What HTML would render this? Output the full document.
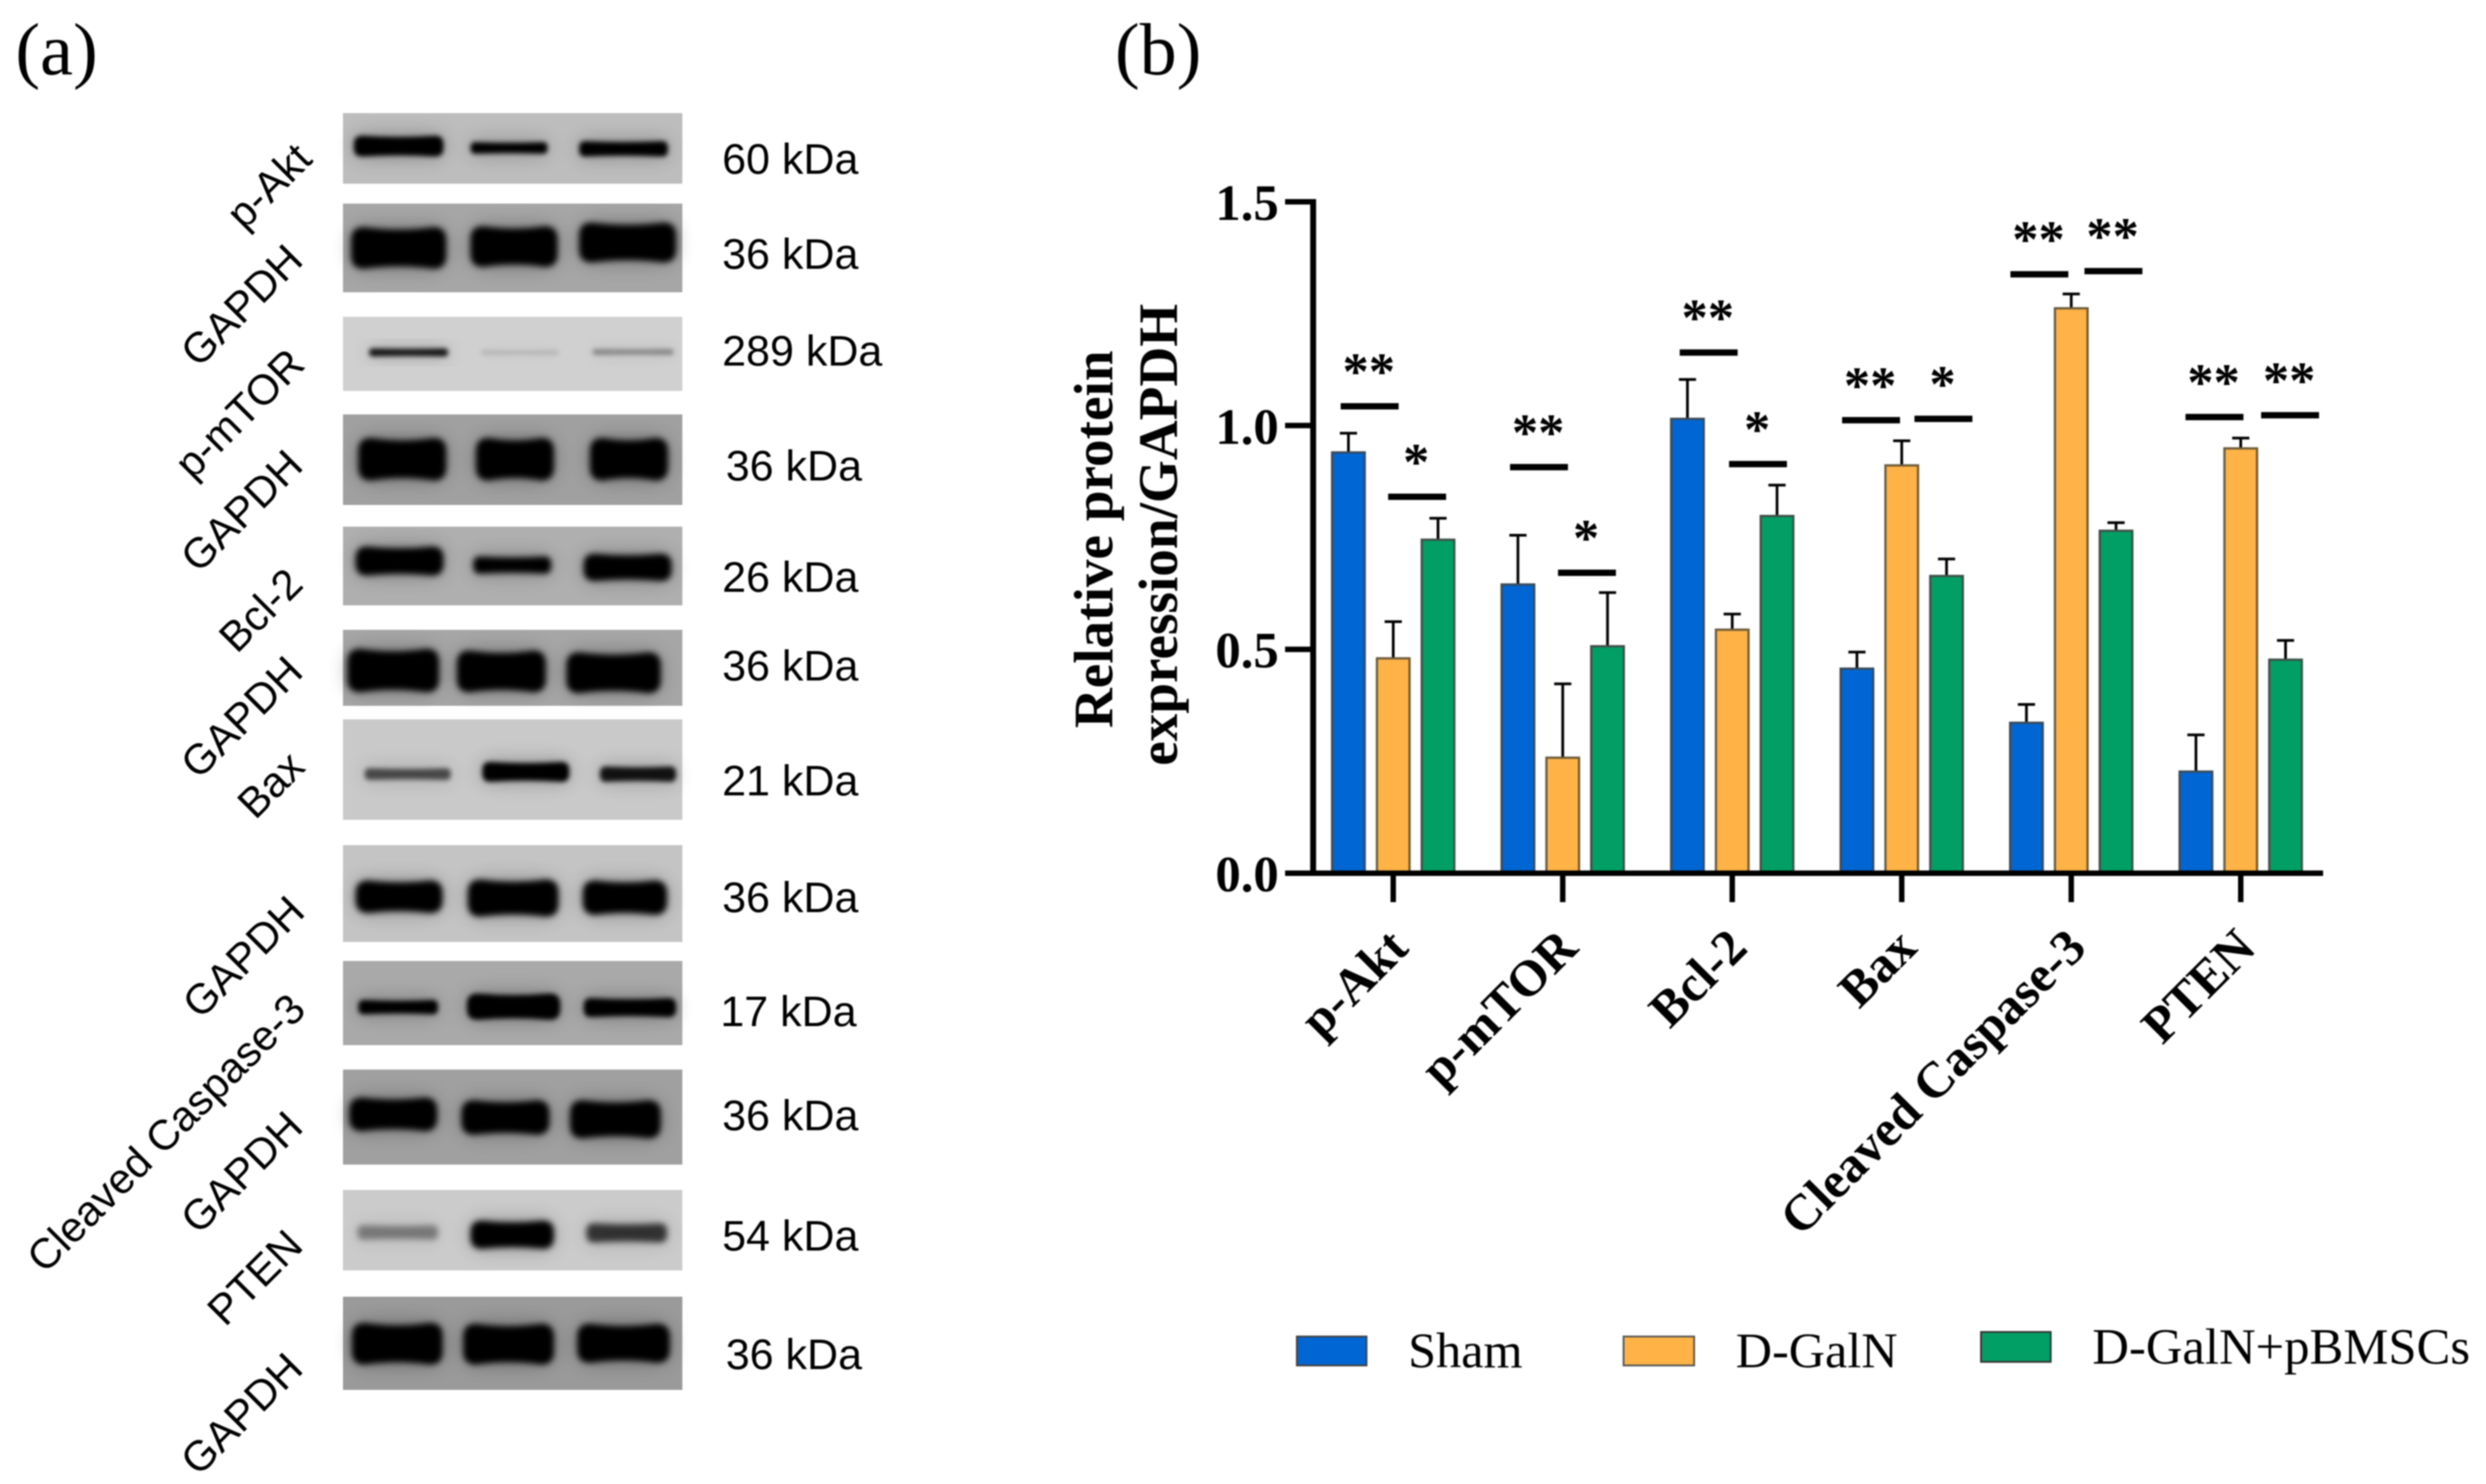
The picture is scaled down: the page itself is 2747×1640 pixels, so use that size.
<!DOCTYPE html>
<html lang="en">
<head>
<meta charset="utf-8">
<title>Western blots and relative protein expression</title>
<style>
html,body{margin:0;padding:0;background:#fff;width:2747px;height:1640px;overflow:hidden}
svg{display:block;filter:blur(.8px)}
.pl{font-family:"Liberation Serif",serif;font-size:82px;fill:#000}
.kda{font-family:"Liberation Sans",sans-serif;font-size:47.5px;fill:#000}
.prot{font-family:"Liberation Sans",sans-serif;font-size:46.8px;fill:#000}
.b{font-family:"Liberation Serif",serif;font-weight:bold;fill:#000}
.leg{font-family:"Liberation Serif",serif;font-size:55.5px;fill:#000}
</style>
</head>
<body>
<svg id="fig" xmlns="http://www.w3.org/2000/svg" width="2747" height="1640" viewBox="0 0 2747 1640">
<defs>
<filter id="bb" x="-20%" y="-60%" width="140%" height="220%"><feGaussianBlur stdDeviation="3.5"/></filter>
<filter id="bs" x="-20%" y="-100%" width="140%" height="300%"><feGaussianBlur stdDeviation="2.6"/></filter>
<filter id="halo" x="-30%" y="-120%" width="160%" height="340%"><feGaussianBlur stdDeviation="11"/></filter>
</defs>
<rect width="2747" height="1640" fill="#fff"/>
<text class="pl" x="17" y="82">(a)</text>
<text class="pl" x="1232" y="82">(b)</text>

<g fill="#060606">
<g><rect x="379" y="125" width="375" height="78" fill="#bdbdbd"/><g filter="url(#bs)"><rect x="391" y="150" width="99" height="23" rx="10"/><rect x="520" y="157" width="85" height="13" rx="6"/><rect x="640" y="156" width="98" height="17" rx="7"/></g></g>
<g><rect x="379" y="225" width="375" height="98" fill="#a6a6a6"/><g filter="url(#bb)"><rect x="388" y="251" width="105" height="46" rx="16"/><rect x="520" y="250" width="96" height="45" rx="16"/><rect x="640" y="246" width="107" height="44" rx="16"/></g></g>
<g><rect x="379" y="350" width="375" height="82" fill="#d0d0d0"/><g filter="url(#bs)"><rect x="408" y="385" width="87" height="9" rx="4" fill-opacity=".9"/><rect x="532" y="387" width="85" height="5" rx="2" fill-opacity=".14"/><rect x="655" y="386" width="89" height="6" rx="3" fill-opacity=".38"/></g></g>
<g><rect x="379" y="458" width="375" height="100" fill="#a0a0a0"/><g filter="url(#bb)"><rect x="396" y="484" width="97" height="47" rx="16"/><rect x="526" y="484" width="86" height="47" rx="16"/><rect x="652" y="484" width="86" height="47" rx="16"/></g></g>
<g><rect x="379" y="582" width="375" height="87" fill="#afafaf"/><g filter="url(#bb)"><rect x="393" y="604" width="97" height="32" rx="13"/><rect x="523" y="615" width="86" height="19" rx="8"/><rect x="645" y="612" width="97" height="30" rx="12"/></g></g>
<g><rect x="379" y="696" width="375" height="84" fill="#a6a6a6"/><g filter="url(#bb)"><rect x="384" y="717" width="101" height="48" rx="16"/><rect x="505" y="719" width="98" height="46" rx="16"/><rect x="626" y="721" width="104" height="45" rx="16"/></g></g>
<g><rect x="379" y="795" width="375" height="111" fill="#c9c9c9"/><g filter="url(#bs)"><rect x="403" y="849" width="95" height="13" rx="5" fill-opacity=".62"/><rect x="533" y="842" width="96" height="22" rx="9"/><rect x="663" y="847" width="84" height="17" rx="7" fill-opacity=".9"/></g></g>
<g><rect x="379" y="934" width="375" height="107" fill="#c4c4c4"/><g filter="url(#bb)"><rect x="393" y="973" width="96" height="36" rx="14"/><rect x="517" y="972" width="100" height="41" rx="15"/><rect x="644" y="973" width="93" height="38" rx="14"/></g></g>
<g><rect x="379" y="1062" width="375" height="93" fill="#a9a9a9"/><g filter="url(#bs)"><rect x="396" y="1105" width="88" height="16" rx="7"/><rect x="516" y="1098" width="103" height="29" rx="13"/><rect x="645" y="1103" width="102" height="21" rx="9"/></g></g>
<g><rect x="379" y="1182" width="375" height="105" fill="#a0a0a0"/><g filter="url(#bb)"><rect x="386" y="1213" width="97" height="37" rx="14"/><rect x="510" y="1216" width="97" height="38" rx="14"/><rect x="630" y="1216" width="100" height="42" rx="16"/></g></g>
<g><rect x="379" y="1315" width="375" height="89" fill="#cbcbcb"/><g filter="url(#bb)"><rect x="395" y="1354" width="89" height="16" rx="8" fill-opacity=".38"/><rect x="520" y="1349" width="92" height="31" rx="13"/><rect x="648" y="1352" width="89" height="21" rx="10" fill-opacity=".72"/></g></g>
<g><rect x="379" y="1433" width="375" height="103" fill="#9a9a9a"/><g filter="url(#bb)"><rect x="389" y="1462" width="100" height="46" rx="16"/><rect x="512" y="1463" width="100" height="45" rx="16"/><rect x="638" y="1463" width="102" height="43" rx="16"/></g></g>
</g>

<g>
<text class="prot" text-anchor="end" transform="translate(347 178) rotate(-45)">p-Akt</text>
<text class="prot" text-anchor="end" transform="translate(337 290) rotate(-45)">GAPDH</text>
<text class="prot" text-anchor="end" transform="translate(339 405) rotate(-45)">p-mTOR</text>
<text class="prot" text-anchor="end" transform="translate(337 517) rotate(-45)">GAPDH</text>
<text class="prot" text-anchor="end" transform="translate(337 648) rotate(-45)">Bcl-2</text>
<text class="prot" text-anchor="end" transform="translate(337 745) rotate(-45)">GAPDH</text>
<text class="prot" text-anchor="end" transform="translate(339 850) rotate(-45)">Bax</text>
<text class="prot" text-anchor="end" transform="translate(339 1010) rotate(-45)">GAPDH</text>
<text class="prot" text-anchor="end" transform="translate(340 1118) rotate(-45)">Cleaved Caspase-3</text>
<text class="prot" text-anchor="end" transform="translate(337 1248) rotate(-45)">GAPDH</text>
<text class="prot" text-anchor="end" transform="translate(337 1379) rotate(-45)">PTEN</text>
<text class="prot" text-anchor="end" transform="translate(337 1515) rotate(-45)">GAPDH</text>
</g>

<g>
<text class="kda" x="798" y="192">60 kDa</text>
<text class="kda" x="798" y="297">36 kDa</text>
<text class="kda" x="798" y="404">289 kDa</text>
<text class="kda" x="802" y="531">36 kDa</text>
<text class="kda" x="798" y="654">26 kDa</text>
<text class="kda" x="798" y="752">36 kDa</text>
<text class="kda" x="798" y="879">21 kDa</text>
<text class="kda" x="798" y="1008">36 kDa</text>
<text class="kda" x="796" y="1134">17 kDa</text>
<text class="kda" x="798" y="1249">36 kDa</text>
<text class="kda" x="798" y="1382">54 kDa</text>
<text class="kda" x="802" y="1513">36 kDa</text>
</g>

<g id="chart"></g>

<g transform="translate(1229 596) rotate(-90)">
<text class="b" font-size="61" text-anchor="middle" x="0" y="0">Relative protein</text>
<text class="b" font-size="61" text-anchor="middle" x="5" y="71.5">expression/GAPDH</text>
</g>

<g>
<g><rect x="1433" y="1477" width="77" height="32" fill="#0066d3" stroke="#444" stroke-width="2"/><text class="leg" x="1556" y="1511">Sham</text></g>
<g><rect x="1794" y="1477" width="78" height="32" fill="#ffb347" stroke="#555" stroke-width="2"/><text class="leg" x="1918" y="1511">D-GalN</text></g>
<g><rect x="2189" y="1472" width="77" height="33" fill="#019f65" stroke="#333" stroke-width="2"/><text class="leg" x="2312" y="1507" style="font-size:56px">D-GalN+pBMSCs</text></g>
</g>
</svg>

<script>
const categories = ['p-Akt', 'p-mTOR', 'Bcl-2', 'Bax', 'Cleaved Caspase-3', 'PTEN'];
const yTicks = [0, 0.5, 1.0, 1.5];
const yTickLabels = ['0.0', '0.5', '1.0', '1.5'];
const shamValues = [0.94, 0.645, 1.015, 0.457, 0.336, 0.227];
const dgalnValues = [0.48, 0.258, 0.544, 0.911, 1.262, 0.949];
const pbmscValues = [0.745, 0.507, 0.798, 0.664, 0.765, 0.477];
const shamErrors = [0.043, 0.11, 0.088, 0.037, 0.041, 0.082];
const dgalnErrors = [0.082, 0.165, 0.035, 0.055, 0.032, 0.023];
const pbmscErrors = [0.048, 0.12, 0.069, 0.038, 0.018, 0.043];
const sigLeftLabels = ['**', '**', '**', '**', '**', '**'];
const sigRightLabels = ['*', '*', '*', '*', '**', '**'];
const sigLeftLevels = [1.043, 0.907, 1.163, 1.012, 1.338, 1.019];
const sigRightLevels = [0.841, 0.671, 0.914, 1.015, 1.345, 1.023];
const sigLeftCategoryPos = [-0.139, 0.86, 1.861, 2.819, 3.812, 4.845];
const sigRightCategoryPos = [0.141, 1.143, 2.152, 3.246, 4.249, 5.291];

const NS = 'http://www.w3.org/2000/svg';
const chart = document.getElementById('chart');
const Y0 = 965, YUNIT = 494.7, X0 = 1539.5, XSTEP = 187.3, GROUP_OFFSET = 49.5, BAR_W = 36;
function yScale(v) { return Y0 - v * YUNIT; }
function xScale(c) { return X0 + c * XSTEP; }
function make(tag, attrs, parent) {
  const el = document.createElementNS(NS, tag);
  for (const k in attrs) el.setAttribute(k, attrs[k]);
  (parent || chart).appendChild(el);
  return el;
}

/* Blot bands: give each band a soft halo and a slight waist, as on a scanned film */
document.querySelectorAll('g[filter]').forEach(function (g) {
  const halo = g.cloneNode(true);
  halo.setAttribute('filter', 'url(#halo)');
  halo.setAttribute('opacity', '.3');
  g.parentNode.insertBefore(halo, g);
  g.querySelectorAll('rect').forEach(function (r) {
    const x = +r.getAttribute('x'), y = +r.getAttribute('y');
    const w = +r.getAttribute('width'), h = +r.getAttribute('height');
    const rad = Math.min(h * 0.4, 14), d = h * 0.06;
    const p = document.createElementNS(NS, 'path');
    p.setAttribute('d', 'M' + (x + rad) + ' ' + y +
      'Q' + (x + w / 2) + ' ' + (y + 2 * d) + ' ' + (x + w - rad) + ' ' + y +
      'Q' + (x + w) + ' ' + y + ' ' + (x + w) + ' ' + (y + rad) +
      'L' + (x + w) + ' ' + (y + h - rad) +
      'Q' + (x + w) + ' ' + (y + h) + ' ' + (x + w - rad) + ' ' + (y + h) +
      'Q' + (x + w / 2) + ' ' + (y + h - 2 * d) + ' ' + (x + rad) + ' ' + (y + h) +
      'Q' + x + ' ' + (y + h) + ' ' + x + ' ' + (y + h - rad) +
      'L' + x + ' ' + (y + rad) +
      'Q' + x + ' ' + y + ' ' + (x + rad) + ' ' + y + 'Z');
    if (r.hasAttribute('fill-opacity')) p.setAttribute('fill-opacity', r.getAttribute('fill-opacity'));
    r.parentNode.replaceChild(p, r);
  });
});

const seriesDefs = [
  { key: 'sham', values: shamValues, errors: shamErrors, fill: '#0066d3', stroke: '#3a4a5a', off: -1 },
  { key: 'd-galn', values: dgalnValues, errors: dgalnErrors, fill: '#ffb347', stroke: '#6b5a3a', off: 0 },
  { key: 'd-galn-pbmscs', values: pbmscValues, errors: pbmscErrors, fill: '#019f65', stroke: '#3f4f48', off: 1 }
];

seriesDefs.forEach(function (s) {
  s.values.forEach(function (v, i) {
    const cx = xScale(i) + s.off * GROUP_OFFSET;
    const errTop = yScale(v + s.errors[i]);
    const stem = make('line', { x1: cx, x2: cx, y1: errTop, y2: yScale(v), stroke: '#000', 'stroke-width': 3 });
    
    
    const cap = make('line', { x1: cx - 9.5, x2: cx + 9.5, y1: errTop, y2: errTop, stroke: '#000', 'stroke-width': 3 });
    
    
    const bar = make('rect', { x: cx - BAR_W / 2, y: yScale(v), width: BAR_W, height: Y0 - yScale(v), fill: s.fill, stroke: s.stroke, 'stroke-width': 2.5 });
    
    
  });
});

function drawSig(labels, levels, positions, side) {
  labels.forEach(function (lab, i) {
    const cx = xScale(positions[i]);
    const y = yScale(levels[i]);
    const line = make('line', { x1: cx - 32, x2: cx + 32, y1: y, y2: y, stroke: '#000', 'stroke-width': 7 });
    
    
    const t = make('text', { x: cx - 1, y: y - 19, 'text-anchor': 'middle', class: 'b', 'font-size': 58 });
    t.textContent = lab;
    
    
  });
}
drawSig(sigLeftLabels, sigLeftLevels, sigLeftCategoryPos, 'left');
drawSig(sigRightLabels, sigRightLevels, sigRightCategoryPos, 'right');

const yAxis = make('line', { x1: 1451, x2: 1451, y1: yScale(1.5) - 3, y2: Y0 + 3, stroke: '#000', 'stroke-width': 6.5 });


const xAxis = make('line', { x1: 1420, x2: 2567, y1: Y0, y2: Y0, stroke: '#000', 'stroke-width': 6 });



yTicks.forEach(function (v, i) {
  const y = yScale(v);
  const tick = make('line', { x1: 1420, x2: 1451, y1: y, y2: y, stroke: '#000', 'stroke-width': 6 });
  
  
  const t = make('text', { x: 1413, y: y + 20, 'text-anchor': 'end', class: 'b', 'font-size': 56 });
  t.textContent = yTickLabels[i];
  
  
});

categories.forEach(function (c, i) {
  const x = xScale(i);
  const tick = make('line', { x1: x, x2: x, y1: Y0, y2: 997, stroke: '#000', 'stroke-width': 6 });
  
  
  const t = make('text', { 'text-anchor': 'end', class: 'b', 'font-size': 56, transform: 'translate(' + (x + 19) + ' 1050) rotate(-45)' });
  t.textContent = c;
  
  
});
</script>
</body>
</html>
